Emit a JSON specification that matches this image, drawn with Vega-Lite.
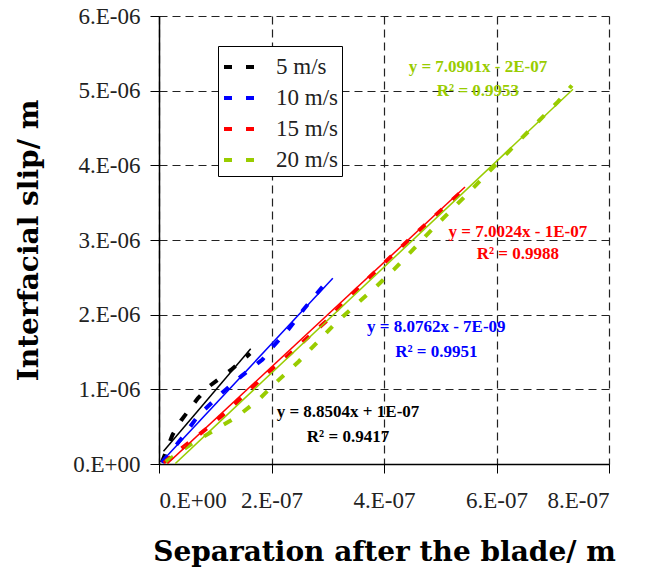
{
  "$schema": "https://vega.github.io/schema/vega-lite/v6.json",
  "width": 450,
  "height": 448,
  "autosize": {"type": "none"},
  "padding": {"left": 159, "top": 16, "right": 37, "bottom": 114},
  "background": "white",
  "config": {
    "view": {"stroke": null},
    "style": {"guide-label": {"font": "Liberation Serif"}},
    "legend": {"labelFont": "Liberation Serif", "labelFontSize": 23},
    "axis": {
      "labelFont": "Liberation Serif",
      "labelFontSize": 23,
      "labelColor": "#222",
      "titleFont": "DejaVu Serif",
      "titleFontWeight": "bold",
      "titleColor": "black",
      "domainColor": "black",
      "domainWidth": 1.5,
      "tickColor": "black",
      "tickSize": 9,
      "grid": true,
      "gridDash": [8, 5],
      "gridColor": "#222",
      "gridWidth": 1.2
    }
  },
  "datasets": {
    "obs": [
      {"sep": 0.05e-7, "slip": 0.02e-6, "speed": "5 m/s"},
      {"sep": 0.24e-7, "slip": 0.39e-6, "speed": "5 m/s"},
      {"sep": 0.39e-7, "slip": 0.58e-6, "speed": "5 m/s"},
      {"sep": 0.69e-7, "slip": 0.88e-6, "speed": "5 m/s"},
      {"sep": 0.89e-7, "slip": 1.04e-6, "speed": "5 m/s"},
      {"sep": 1.28e-7, "slip": 1.26e-6, "speed": "5 m/s"},
      {"sep": 1.62e-7, "slip": 1.48e-6, "speed": "5 m/s"},
      {"sep": 0.05e-7, "slip": 0.02e-6, "speed": "10 m/s"},
      {"sep": 0.40e-7, "slip": 0.34e-6, "speed": "10 m/s"},
      {"sep": 0.69e-7, "slip": 0.64e-6, "speed": "10 m/s"},
      {"sep": 1.10e-7, "slip": 0.94e-6, "speed": "10 m/s"},
      {"sep": 1.47e-7, "slip": 1.18e-6, "speed": "10 m/s"},
      {"sep": 1.84e-7, "slip": 1.40e-6, "speed": "10 m/s"},
      {"sep": 2.00e-7, "slip": 1.55e-6, "speed": "10 m/s"},
      {"sep": 2.30e-7, "slip": 1.80e-6, "speed": "10 m/s"},
      {"sep": 2.57e-7, "slip": 2.07e-6, "speed": "10 m/s"},
      {"sep": 2.88e-7, "slip": 2.35e-6, "speed": "10 m/s"},
      {"sep": 3.07e-7, "slip": 2.51e-6, "speed": "10 m/s"},
      {"sep": 0.08e-7, "slip": 0.02e-6, "speed": "15 m/s"},
      {"sep": 0.52e-7, "slip": 0.28e-6, "speed": "15 m/s"},
      {"sep": 0.89e-7, "slip": 0.50e-6, "speed": "15 m/s"},
      {"sep": 1.22e-7, "slip": 0.71e-6, "speed": "15 m/s"},
      {"sep": 1.58e-7, "slip": 0.97e-6, "speed": "15 m/s"},
      {"sep": 1.91e-7, "slip": 1.21e-6, "speed": "15 m/s"},
      {"sep": 2.29e-7, "slip": 1.45e-6, "speed": "15 m/s"},
      {"sep": 2.64e-7, "slip": 1.69e-6, "speed": "15 m/s"},
      {"sep": 3.00e-7, "slip": 1.93e-6, "speed": "15 m/s"},
      {"sep": 3.30e-7, "slip": 2.18e-6, "speed": "15 m/s"},
      {"sep": 3.63e-7, "slip": 2.42e-6, "speed": "15 m/s"},
      {"sep": 3.96e-7, "slip": 2.66e-6, "speed": "15 m/s"},
      {"sep": 4.31e-7, "slip": 2.91e-6, "speed": "15 m/s"},
      {"sep": 4.64e-7, "slip": 3.14e-6, "speed": "15 m/s"},
      {"sep": 5.00e-7, "slip": 3.39e-6, "speed": "15 m/s"},
      {"sep": 5.35e-7, "slip": 3.63e-6, "speed": "15 m/s"},
      {"sep": 5.44e-7, "slip": 3.69e-6, "speed": "15 m/s"},
      {"sep": 0.12e-7, "slip": 0.03e-6, "speed": "20 m/s"},
      {"sep": 0.58e-7, "slip": 0.27e-6, "speed": "20 m/s"},
      {"sep": 1.00e-7, "slip": 0.46e-6, "speed": "20 m/s"},
      {"sep": 1.38e-7, "slip": 0.63e-6, "speed": "20 m/s"},
      {"sep": 1.77e-7, "slip": 0.86e-6, "speed": "20 m/s"},
      {"sep": 2.12e-7, "slip": 1.12e-6, "speed": "20 m/s"},
      {"sep": 2.48e-7, "slip": 1.37e-6, "speed": "20 m/s"},
      {"sep": 2.80e-7, "slip": 1.62e-6, "speed": "20 m/s"},
      {"sep": 3.13e-7, "slip": 1.88e-6, "speed": "20 m/s"},
      {"sep": 3.48e-7, "slip": 2.12e-6, "speed": "20 m/s"},
      {"sep": 3.84e-7, "slip": 2.36e-6, "speed": "20 m/s"},
      {"sep": 4.17e-7, "slip": 2.60e-6, "speed": "20 m/s"},
      {"sep": 4.49e-7, "slip": 2.85e-6, "speed": "20 m/s"},
      {"sep": 4.80e-7, "slip": 3.10e-6, "speed": "20 m/s"},
      {"sep": 5.13e-7, "slip": 3.35e-6, "speed": "20 m/s"},
      {"sep": 5.46e-7, "slip": 3.60e-6, "speed": "20 m/s"},
      {"sep": 5.78e-7, "slip": 3.85e-6, "speed": "20 m/s"},
      {"sep": 6.11e-7, "slip": 4.10e-6, "speed": "20 m/s"},
      {"sep": 6.43e-7, "slip": 4.35e-6, "speed": "20 m/s"},
      {"sep": 6.76e-7, "slip": 4.60e-6, "speed": "20 m/s"},
      {"sep": 7.09e-7, "slip": 4.85e-6, "speed": "20 m/s"},
      {"sep": 7.34e-7, "slip": 5.07e-6, "speed": "20 m/s"}
    ],
    "trend": [
      {"sep": 0.08e-7, "slip": 0.171e-6, "speed": "5 m/s"},
      {"sep": 1.63e-7, "slip": 1.543e-6, "speed": "5 m/s"},
      {"sep": 0.05e-7, "slip": 0.033e-6, "speed": "10 m/s"},
      {"sep": 3.09e-7, "slip": 2.489e-6, "speed": "10 m/s"},
      {"sep": 0.15e-7, "slip": 0.005e-6, "speed": "15 m/s"},
      {"sep": 5.44e-7, "slip": 3.709e-6, "speed": "15 m/s"},
      {"sep": 0.29e-7, "slip": 0.006e-6, "speed": "20 m/s"},
      {"sep": 7.36e-7, "slip": 5.018e-6, "speed": "20 m/s"}
    ],
    "eqs": [
      {"sep": 5.67e-7, "slip": 5.32e-6, "label": "y = 7.0901x - 2E-07", "speed": "20 m/s"},
      {"sep": 5.67e-7, "slip": 5.00e-6, "label": "R² = 0.9953", "speed": "20 m/s"},
      {"sep": 6.38e-7, "slip": 3.11e-6, "label": "y = 7.0024x - 1E-07", "speed": "15 m/s"},
      {"sep": 6.38e-7, "slip": 2.81e-6, "label": "R² = 0.9988", "speed": "15 m/s"},
      {"sep": 4.93e-7, "slip": 1.83e-6, "label": "y = 8.0762x - 7E-09", "speed": "10 m/s"},
      {"sep": 4.93e-7, "slip": 1.50e-6, "label": "R² = 0.9951", "speed": "10 m/s"},
      {"sep": 3.36e-7, "slip": 0.70e-6, "label": "y = 8.8504x + 1E-07", "speed": "5 m/s"},
      {"sep": 3.36e-7, "slip": 0.36e-6, "label": "R² = 0.9417", "speed": "5 m/s"}
    ]
  },
  "layer": [
    {
      "data": {"name": "obs"},
      "mark": {"type": "line", "strokeWidth": 4, "strokeDash": [9, 14], "clip": true},
      "encoding": {
        "x": {
          "field": "sep", "type": "quantitative",
          "scale": {"domain": [0, 8e-7], "nice": false, "zero": false},
          "axis": {
            "values": [0, 2e-7, 4e-7, 6e-7, 8e-7],
            "labelExpr": "datum.value == 0 ? '0.E+00' : round(datum.value * 1e7) + '.E-07'",
            "labelPadding": 16,
            "title": "Separation after the blade/ m",
            "titleFontSize": 28,
            "titlePadding": 26
          }
        },
        "y": {
          "field": "slip", "type": "quantitative",
          "scale": {"domain": [0, 6e-6], "nice": false, "zero": false},
          "axis": {
            "values": [0, 1e-6, 2e-6, 3e-6, 4e-6, 5e-6, 6e-6],
            "labelExpr": "datum.value == 0 ? '0.E+00' : round(datum.value * 1e6) + '.E-06'",
            "labelPadding": 10,
            "title": "Interfacial slip/ m",
            "titleFontSize": 28,
            "titlePadding": 29
          }
        },
        "color": {
          "field": "speed", "type": "nominal",
          "scale": {
            "domain": ["5 m/s", "10 m/s", "15 m/s", "20 m/s"],
            "range": ["#000000", "#0000FF", "#FF0000", "#99CC00"]
          },
          "legend": {
            "title": null,
            "orient": "none",
            "legendX": 59,
            "legendY": 30,
            "symbolType": "stroke",
            "symbolSize": 900,
            "symbolStrokeWidth": 4,
            "symbolDash": [8, 14],
            "labelFont": "Liberation Serif",
            "labelFontSize": 23,
            "labelColor": "#222",
            "labelOffset": 20,
            "rowPadding": 2,
            "padding": 4,
            "strokeColor": "black",
            "fillColor": "white"
          }
        }
      }
    },
    {
      "data": {"name": "trend"},
      "mark": {"type": "line", "strokeWidth": 1.5, "clip": true},
      "encoding": {
        "x": {"field": "sep", "type": "quantitative"},
        "y": {"field": "slip", "type": "quantitative"},
        "color": {"field": "speed", "type": "nominal"}
      }
    },
    {
      "data": {"name": "eqs"},
      "mark": {"type": "text", "font": "Liberation Serif", "fontWeight": "bold", "fontSize": 17, "align": "center", "baseline": "middle"},
      "encoding": {
        "x": {"field": "sep", "type": "quantitative"},
        "y": {"field": "slip", "type": "quantitative"},
        "text": {"field": "label"},
        "color": {"field": "speed", "type": "nominal"}
      }
    }
  ]
}
